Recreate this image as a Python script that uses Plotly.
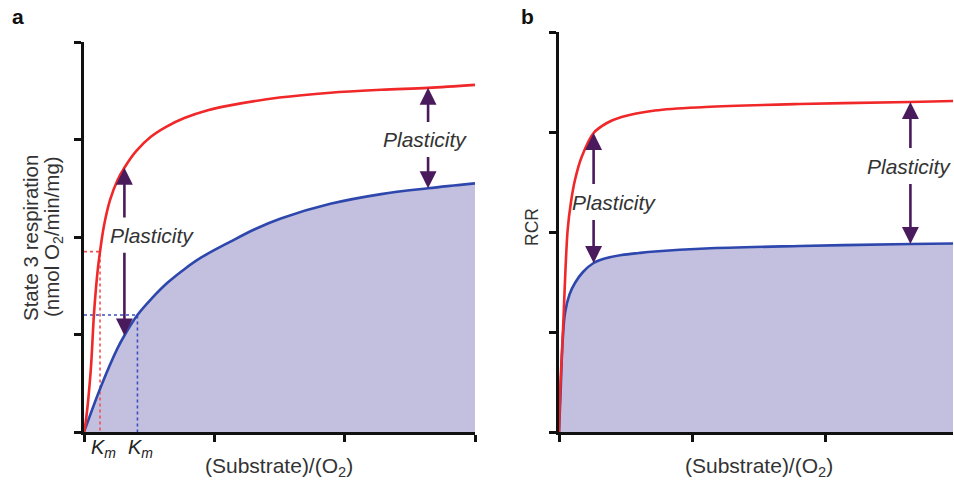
import plotly.graph_objects as go

# ---------------- data ----------------
# Panel a: State 3 respiration vs (Substrate)/(O2)
a_x_red = [0, 0.013, 0.051, 0.077, 0.102, 0.123, 0.154, 0.2, 0.256, 0.31, 0.4, 0.515, 0.63, 0.77, 0.95, 1.12, 1.5, 1.89, 2.28, 2.64, 3.0]
a_y_red = [0, 0.1, 0.62, 1.22, 1.62, 1.85, 2.12, 2.38, 2.58, 2.71, 2.88, 3.03, 3.13, 3.22, 3.3, 3.35, 3.43, 3.48, 3.51, 3.53, 3.56]
a_x_blue = [0, 0.128, 0.254, 0.31, 0.41, 0.52, 0.64, 0.77, 0.9, 1.12, 1.31, 1.51, 1.89, 2.28, 2.64, 3.0]
a_y_blue = [0, 0.46, 0.85, 0.99, 1.2, 1.37, 1.53, 1.67, 1.79, 1.95, 2.08, 2.19, 2.34, 2.44, 2.5, 2.55]
a_km = [0.123, 0.41]        # red Km, blue Km
a_half_v = [1.85, 1.2]      # red Vmax/2, blue Vmax/2

# Panel b: RCR vs (Substrate)/(O2)
b_x_red = [0, 0.01, 0.03, 0.065, 0.09, 0.12, 0.17, 0.26, 0.36, 0.47, 0.72, 1.1, 1.81, 2.64, 2.96]
b_y_red = [0, 0.45, 1.02, 2.02, 2.3, 2.52, 2.75, 2.99, 3.09, 3.15, 3.215, 3.25, 3.28, 3.3, 3.31]
b_x_blue = [0, 0.012, 0.025, 0.045, 0.08, 0.12, 0.18, 0.26, 0.36, 0.47, 0.6, 0.72, 1.1, 1.81, 2.64, 2.96]
b_y_blue = [0, 0.4, 0.85, 1.19, 1.38, 1.49, 1.6, 1.69, 1.74, 1.77, 1.79, 1.805, 1.835, 1.86, 1.88, 1.885]

# "Plasticity" arrows: x positions, label positions
a_arrow_x = [0.31, 2.64]
a_label_x = [0.52, 2.62]
a_label_y = [2.02, 3.0]
b_arrow_x = [0.26, 2.64]
b_label_x = [0.41, 2.63]
b_label_y = [2.3, 2.66]

x_ticks_a = [0, 1, 2, 3]
x_ticks_b = [0, 1, 2]
y_ticks = [0, 1, 2, 3, 4]

# ---------------- style ----------------
W, H = 954, 485
RED = "#f0282a"
BLUE = "#2e47ad"
FILL = "#c2bfdf"
ARROW = "#4a1b5c"
FONT = "Liberation Sans"
TXT = "#333333"
SPL = dict(shape="spline", smoothing=1.0)


def px(x):
    return x / W


def py(y):
    return 1 - y / H


fig = go.Figure()

# panel a
fig.add_trace(go.Scatter(x=a_x_blue, y=a_y_blue, mode="lines", line=dict(width=0, **SPL),
                         fill="tozeroy", fillcolor=FILL, xaxis="x", yaxis="y", hoverinfo="skip"))
# dotted Km guides
fig.add_trace(go.Scatter(x=[0, a_km[0], a_km[0]], y=[a_half_v[0], a_half_v[0], 0], mode="lines",
                         line=dict(color="#f35050", width=1.6, dash="dot"), xaxis="x", yaxis="y"))
fig.add_trace(go.Scatter(x=[0, a_km[1], a_km[1]], y=[a_half_v[1], a_half_v[1], 0], mode="lines",
                         line=dict(color="#3a4fc0", width=1.6, dash="dot"), xaxis="x", yaxis="y"))
fig.add_trace(go.Scatter(x=a_x_blue, y=a_y_blue, mode="lines", line=dict(color=BLUE, width=2.6, **SPL),
                         xaxis="x", yaxis="y"))
fig.add_trace(go.Scatter(x=a_x_red, y=a_y_red, mode="lines", line=dict(color=RED, width=2.6, **SPL),
                         xaxis="x", yaxis="y"))

# panel b
fig.add_trace(go.Scatter(x=b_x_blue, y=b_y_blue, mode="lines", line=dict(width=0, **SPL),
                         fill="tozeroy", fillcolor=FILL, xaxis="x2", yaxis="y2", hoverinfo="skip"))
fig.add_trace(go.Scatter(x=b_x_blue, y=b_y_blue, mode="lines", line=dict(color=BLUE, width=2.6, **SPL),
                         xaxis="x2", yaxis="y2"))
fig.add_trace(go.Scatter(x=b_x_red, y=b_y_red, mode="lines", line=dict(color=RED, width=2.6, **SPL),
                         xaxis="x2", yaxis="y2"))

annotations = []
GAP = 0.165


def add_plasticity(xref, yref, xs_r, ys_r, xs_b, ys_b, arrow_x, label_x, label_y):
    for ax_, lx, ly in zip(arrow_x, label_x, label_y):
        top = ys_r[xs_r.index(ax_)]
        bot = ys_b[xs_b.index(ax_)]
        common = dict(xref=xref, yref=yref, axref=xref, ayref=yref, text="", showarrow=True,
                      arrowhead=2, arrowsize=1.3, arrowwidth=2.6, arrowcolor=ARROW, standoff=0)
        annotations.append(dict(x=ax_, y=top, ax=ax_, ay=ly + GAP, **common))
        annotations.append(dict(x=ax_, y=bot, ax=ax_, ay=ly - GAP, **common))
        annotations.append(dict(x=lx, y=ly, xref=xref, yref=yref, text="<i>Plasticity</i>", showarrow=False,
                                font=dict(family=FONT, size=21, color=TXT), xanchor="center", yanchor="middle"))


add_plasticity("x", "y", a_x_red, a_y_red, a_x_blue, a_y_blue, a_arrow_x, a_label_x, a_label_y)
add_plasticity("x2", "y2", b_x_red, b_y_red, b_x_blue, b_y_blue, b_arrow_x, b_label_x, b_label_y)

# Km labels
for k in a_km:
    annotations.append(dict(x=k, y=py(448), xref="x", yref="paper", text="<i>K<sub>m</sub></i>", showarrow=False,
                            xshift=3, font=dict(family=FONT, size=20, color="#222"), xanchor="center", yanchor="middle"))

# panel letters
annotations.append(dict(x=px(18), y=py(17), xref="paper", yref="paper", text="<b>a</b>", showarrow=False,
                        font=dict(family=FONT, size=21, color="#111"), xanchor="center", yanchor="middle"))
annotations.append(dict(x=px(527), y=py(17), xref="paper", yref="paper", text="<b>b</b>", showarrow=False,
                        font=dict(family=FONT, size=21, color="#111"), xanchor="center", yanchor="middle"))

# axis titles
annotations.append(dict(x=px(30), y=py(238), xref="paper", yref="paper", text="State 3 respiration", showarrow=False,
                        textangle=-90, font=dict(family=FONT, size=20.5, color=TXT), xanchor="center", yanchor="middle"))
annotations.append(dict(x=px(53), y=py(237), xref="paper", yref="paper", text="(nmol O<sub>2</sub>/min/mg)", showarrow=False,
                        textangle=-90, font=dict(family=FONT, size=20.5, color=TXT), xanchor="center", yanchor="middle"))
annotations.append(dict(x=px(532), y=py(227), xref="paper", yref="paper", text="RCR", showarrow=False,
                        textangle=-90, font=dict(family=FONT, size=17.5, color=TXT), xanchor="center", yanchor="middle"))
annotations.append(dict(x=px(279), y=py(467), xref="paper", yref="paper", text="(Substrate)/(O<sub>2</sub>)", showarrow=False,
                        font=dict(family=FONT, size=21, color=TXT), xanchor="center", yanchor="middle"))
annotations.append(dict(x=px(759), y=py(467), xref="paper", yref="paper", text="(Substrate)/(O<sub>2</sub>)", showarrow=False,
                        font=dict(family=FONT, size=21, color=TXT), xanchor="center", yanchor="middle"))

axis_common = dict(showline=True, linecolor="#111", linewidth=2.6, ticks="outside", ticklen=7, tickwidth=2.6,
                   tickcolor="#111", showticklabels=False, showgrid=False, zeroline=False, fixedrange=True)

fig.update_layout(
    width=W, height=H, margin=dict(l=0, r=0, t=0, b=0),
    paper_bgcolor="white", plot_bgcolor="white", showlegend=False,
    xaxis=dict(domain=[px(84), px(475)], range=[0, 3], tickvals=x_ticks_a, anchor="y", **axis_common),
    yaxis=dict(domain=[py(432), py(42)], range=[0, 4], tickvals=y_ticks, anchor="x", **axis_common),
    xaxis2=dict(domain=[px(559), px(953)], range=[0, 2.96], tickvals=x_ticks_b, anchor="y2", **axis_common),
    yaxis2=dict(domain=[py(432), py(32)], range=[0, 4], tickvals=y_ticks, anchor="x2", **axis_common),
    annotations=annotations,
)

fig.write_html("out.html", config={"displayModeBar": False},
               post_script="document.body.style.margin='0';document.body.style.overflow='hidden';")
